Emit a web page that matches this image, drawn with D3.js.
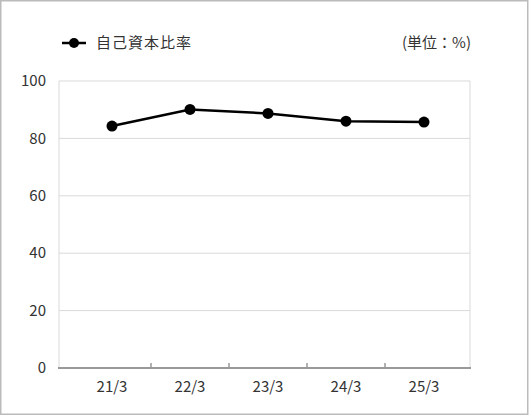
<!DOCTYPE html>
<html lang="ja">
<head>
<meta charset="utf-8">
<script src="https://d3js.org/d3.v7.min.js"></script>
<style>
  body { margin:0; background:#fff; }
  svg { display:block; font-family:"Noto Sans CJK JP","Noto Sans",sans-serif; }
  .grid line { stroke:#d9d9d9; stroke-width:1px; }
  .lbl { fill:#333; font-size:15px; }
</style>
</head>
<body>
<script>
// data
var categories = ["21/3","22/3","23/3","24/3","25/3"];
var ratio = [84.3, 90.1, 88.7, 86.0, 85.7];
var yTicks = [0, 20, 40, 60, 80, 100];
var seriesName = "自己資本比率";
var unitLabel = "(単位：%)";

var width = 530, height = 416;
var plotL = 59, plotR = 470, plotT = 81, plotB = 368;

var svg = d3.select("body").append("svg")
  .attr("width", width).attr("height", height);

// outer frame
svg.append("rect")
  .attr("x", 0.75).attr("y", 0.75)
  .attr("width", width - 3).attr("height", height - 2.5)
  .attr("fill", "#fff").attr("stroke", "#bbb").attr("stroke-width", 1.5);

var y = d3.scaleLinear().domain([0, 100]).range([plotB, plotT]);
var x = d3.scaleBand().domain(categories).range([73, 463]).padding(0);

// horizontal grid
svg.append("g").attr("class", "grid")
  .selectAll("line").data(yTicks.filter(function(d){ return d > 0; })).enter()
  .append("line")
  .attr("x1", plotL).attr("x2", plotR)
  .attr("y1", function(d){ return y(d); }).attr("y2", function(d){ return y(d); });

// plot side borders
svg.append("g").attr("class", "grid").selectAll("line").data([plotL, plotR]).enter()
  .append("line")
  .attr("x1", function(d){ return d; }).attr("x2", function(d){ return d; })
  .attr("y1", plotT).attr("y2", plotB);

// y labels
svg.append("g").selectAll("text").data(yTicks).enter().append("text")
  .attr("class", "lbl")
  .attr("x", 46).attr("y", function(d){ return y(d); })
  .attr("dy", "0.35em").attr("text-anchor", "end")
  .text(function(d){ return d; });

// x axis line
svg.append("line")
  .attr("x1", plotL - 1).attr("x2", plotR + 1)
  .attr("y1", plotB).attr("y2", plotB)
  .attr("stroke", "#999").attr("stroke-width", 2);

// x tick marks between categories
svg.append("g").selectAll("line").data(categories.slice(1)).enter().append("line")
  .attr("x1", function(d){ return x(d); }).attr("x2", function(d){ return x(d); })
  .attr("y1", plotB).attr("y2", plotB - 5)
  .attr("stroke", "#999").attr("stroke-width", 1.5);

// x labels
svg.append("g").selectAll("text").data(categories).enter().append("text")
  .attr("class", "lbl")
  .attr("x", function(d){ return x(d) + x.bandwidth() / 2; })
  .attr("y", 387).attr("dy", "0.35em").attr("text-anchor", "middle")
  .text(function(d){ return d; });

// series line
var pts = categories.map(function(c, i){ return { c: c, v: ratio[i] }; });
var line = d3.line()
  .x(function(d){ return x(d.c) + x.bandwidth() / 2; })
  .y(function(d){ return y(d.v); });

svg.append("path").datum(pts)
  .attr("d", line)
  .attr("fill", "none").attr("stroke", "#000").attr("stroke-width", 2.5);

svg.append("g").selectAll("circle").data(pts).enter().append("circle")
  .attr("cx", function(d){ return x(d.c) + x.bandwidth() / 2; })
  .attr("cy", function(d){ return y(d.v); })
  .attr("r", 5.5).attr("fill", "#000");

// legend
var lg = svg.append("g").attr("transform", "translate(62,43)");
lg.append("line").attr("x1", 0).attr("x2", 24).attr("y1", 0).attr("y2", 0)
  .attr("stroke", "#000").attr("stroke-width", 2.5);
lg.append("circle").attr("cx", 12).attr("cy", 0).attr("r", 5).attr("fill", "#000");
lg.append("text").attr("class", "lbl").attr("x", 34).attr("dy", "0.35em")
  .style("letter-spacing", "1px")
  .text(seriesName);

svg.append("text").attr("class", "lbl")
  .attr("x", 471).attr("y", 43).attr("dy", "0.35em").attr("text-anchor", "end")
  .text(unitLabel);
</script>
</body>
</html>
